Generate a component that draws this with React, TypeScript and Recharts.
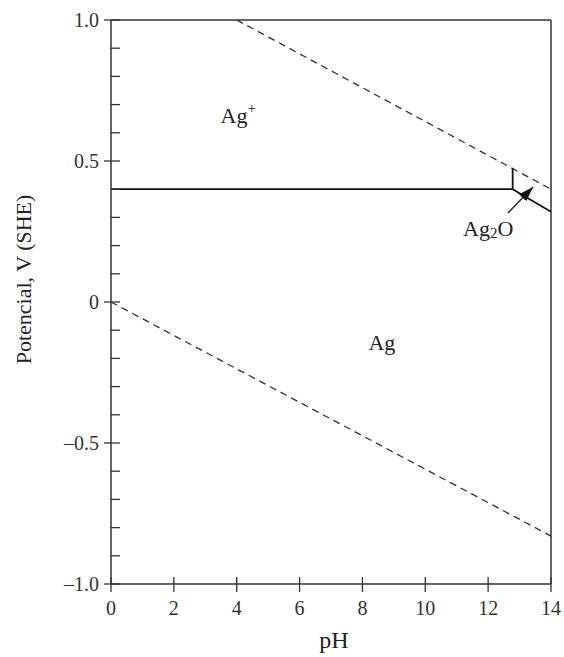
import React from 'react';
import { LineChart, Line, XAxis, YAxis, ReferenceLine, ReferenceDot, Label } from 'recharts';

const phTicks = [0, 2, 4, 6, 8, 10, 12, 14];
const potentialTicks = [
  -1.0, -0.9, -0.8, -0.7, -0.6, -0.5, -0.4, -0.3, -0.2, -0.1, 0,
  0.1, 0.2, 0.3, 0.4, 0.5, 0.6, 0.7, 0.8, 0.9, 1.0,
];
const majorPotentialTicks = [-1.0, -0.5, 0, 0.5, 1.0];

// boundary lines (pH, E in V vs SHE)
const oxygenLine = [{ ph: 4, e: 1.0 }, { ph: 14, e: 0.4 }];
const hydrogenLine = [{ ph: 0, e: 0 }, { ph: 14, e: -0.83 }];
const agPlusAgLine = [{ ph: 0, e: 0.4 }, { ph: 12.78, e: 0.4 }];
const agPlusAg2OLine = [{ ph: 12.78, e: 0.4 }, { ph: 12.78, e: 0.475 }];
const ag2OAgLine = [{ ph: 12.78, e: 0.4 }, { ph: 14, e: 0.32 }];
const arrowLine = [{ ph: 12.63, e: 0.316 }, { ph: 13.43, e: 0.408 }];

const FONT = '"Liberation Serif", "Times New Roman", serif';
const AXIS = '#333';

const fmtPotential = (v: number) => {
  if (Math.abs(v) < 1e-9) return '0';
  const s = Math.abs(v).toFixed(1);
  return v < 0 ? '\u2013' + s : s;
};

const PotentialTick = (props: any) => {
  const { x, y, payload } = props;
  const v = payload.value;
  const major = majorPotentialTicks.some((m) => Math.abs(m - v) < 1e-6);
  return (
    <g>
      <line x1={major ? x - 7 : x} x2={x + 9} y1={y} y2={y} stroke={AXIS} strokeWidth={1.3} />
      {major && (
        <text x={x - 12} y={y} textAnchor="end" dominantBaseline="central" fontFamily={FONT} fontSize={20} fill="#333">
          {fmtPotential(v)}
        </text>
      )}
    </g>
  );
};

const PhTick = (props: any) => {
  const { x, y, payload } = props;
  return (
    <g>
      <line x1={x} x2={x} y1={y - 7} y2={y + 8} stroke={AXIS} strokeWidth={1.3} />
      <text x={x} y={y + 24} textAnchor="middle" dominantBaseline="central" fontFamily={FONT} fontSize={20} fill="#333">
        {payload.value}
      </text>
    </g>
  );
};

const regionText = (label: React.ReactNode) => (p: any) => (
  <text x={p.cx} y={p.cy} textAnchor="middle" dominantBaseline="central" fontFamily={FONT} fontSize={22} fill="#222">
    {label}
  </text>
);

export default function App() {
  return (
    <div style={{ position: 'absolute', left: 0, top: 0, background: '#fff' }}>
      <LineChart width={564} height={657} margin={{ top: 20, right: 13, bottom: 0, left: 0 }}>
        <defs>
          <marker id="arrowHead" markerUnits="userSpaceOnUse" markerWidth={15} markerHeight={10} refX={15} refY={5} orient="auto">
            <path d="M0,0 L15,5 L0,10 z" fill="#111" />
          </marker>
        </defs>
        <XAxis
          dataKey="ph"
          type="number"
          domain={[0, 14]}
          ticks={phTicks}
          interval={0}
          allowDataOverflow
          height={73}
          tickSize={0}
          tickMargin={0}
          tickLine={false}
          axisLine={{ stroke: AXIS, strokeWidth: 1.5 }}
          tick={<PhTick />}
        >
          <Label
            content={(p: any) => (
              <text x={p.viewBox.x + p.viewBox.width / 2 + 3} y={p.viewBox.y + 56} textAnchor="middle" dominantBaseline="central" fontFamily={FONT} fontSize={24} fill="#222">
                pH
              </text>
            )}
          />
        </XAxis>
        <YAxis
          dataKey="e"
          type="number"
          domain={[-1, 1]}
          ticks={potentialTicks}
          interval={0}
          allowDataOverflow
          width={111}
          tickSize={0}
          tickMargin={0}
          tickLine={false}
          axisLine={{ stroke: AXIS, strokeWidth: 1.5 }}
          tick={<PotentialTick />}
        >
          <Label
            content={(p: any) => {
              const cx = 24;
              const cy = p.viewBox.y + p.viewBox.height * 0.46;
              return (
                <text x={cx} y={cy} transform={`rotate(-90, ${cx}, ${cy})`} textAnchor="middle" dominantBaseline="central" fontFamily={FONT} fontSize={22} fill="#222">
                  Potencial, V (SHE)
                </text>
              );
            }}
          />
        </YAxis>
        <ReferenceLine y={1} stroke={AXIS} strokeWidth={1.5} />
        <ReferenceLine x={14} stroke={AXIS} strokeWidth={1.5} />

        <Line data={oxygenLine} dataKey="e" stroke="#333" strokeWidth={1.3} strokeDasharray="7 5" dot={false} activeDot={false} isAnimationActive={false} />
        <Line data={hydrogenLine} dataKey="e" stroke="#333" strokeWidth={1.3} strokeDasharray="7 5" dot={false} activeDot={false} isAnimationActive={false} />
        <Line data={agPlusAgLine} dataKey="e" stroke="#111" strokeWidth={1.8} dot={false} activeDot={false} isAnimationActive={false} />
        <Line data={agPlusAg2OLine} dataKey="e" stroke="#111" strokeWidth={1.8} dot={false} activeDot={false} isAnimationActive={false} />
        <Line data={ag2OAgLine} dataKey="e" stroke="#111" strokeWidth={1.8} dot={false} activeDot={false} isAnimationActive={false} />
        <Line data={arrowLine} dataKey="e" stroke="#333" strokeWidth={1.5} markerEnd="url(#arrowHead)" dot={false} activeDot={false} isAnimationActive={false} />

        <ReferenceDot x={4.05} y={0.66} r={1} shape={regionText(<>Ag<tspan dy={-8} fontSize={15}>+</tspan></>)} />
        <ReferenceDot x={8.62} y={-0.145} r={1} shape={regionText('Ag')} />
        <ReferenceDot x={12.0} y={0.262} r={1} shape={regionText(<>Ag<tspan dy={5} fontSize={15}>2</tspan><tspan dy={-5}>O</tspan></>)} />
      </LineChart>
    </div>
  );
}
